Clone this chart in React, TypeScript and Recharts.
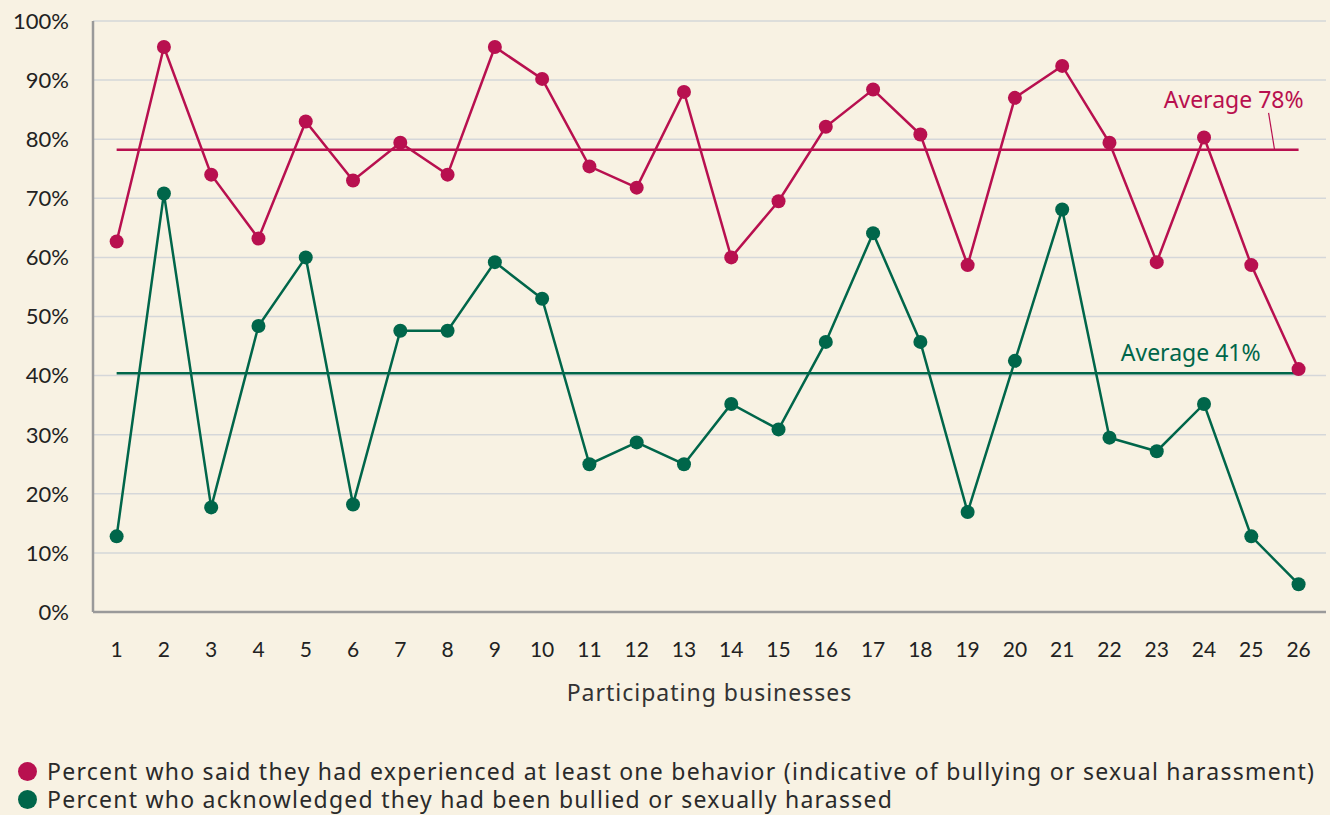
import React from 'react';
import { LineChart, Line, XAxis, YAxis, CartesianGrid, ReferenceLine } from 'recharts';

const businesses = [1,2,3,4,5,6,7,8,9,10,11,12,13,14,15,16,17,18,19,20,21,22,23,24,25,26];
const experienced = [62.7,95.6,74.0,63.2,83.0,73.0,79.4,74.0,95.6,90.2,75.4,71.8,88.0,60.0,69.5,82.1,88.4,80.8,58.7,87.0,92.4,79.4,59.2,80.3,58.7,41.1];
const acknowledged = [12.8,70.8,17.7,48.4,60.0,18.2,47.6,47.6,59.2,53.0,25.0,28.7,25.0,35.2,30.9,45.7,64.1,45.7,16.9,42.5,68.1,29.5,27.2,35.2,12.8,4.7];
const yTicks = [0,10,20,30,40,50,60,70,80,90,100];
const avgExperienced = 78.2;
const avgAcknowledged = 40.4;
const avgExperiencedLabel = 'Average 78%';
const avgAcknowledgedLabel = 'Average 41%';
const legendLabels = [
  'Percent who said they had experienced at least one behavior (indicative of bullying or sexual harassment)',
  'Percent who acknowledged they had been bullied or sexually harassed',
];

const RED = '#b8104f';
const GREEN = '#00664a';
const BG = '#f8f2e3';

const data = businesses.map((b, i) => ({ x: b, exp: experienced[i], ack: acknowledged[i] }));

const RedLabel = (props: any) => {
  const vb = props.viewBox || {};
  const x2 = vb.x + vb.width;
  const y = vb.y;
  return (
    <g>
      <line x1={x2 - 30} y1={y - 37} x2={x2 - 24} y2={y} stroke={RED} strokeWidth={1.2} />
      <text x={x2 + 5} y={y - 42} textAnchor="end" fill={RED} fontSize={23} fontFamily="'Noto Sans', sans-serif">
        {avgExperiencedLabel}
      </text>
    </g>
  );
};

const GreenLabel = (props: any) => {
  const vb = props.viewBox || {};
  const x2 = vb.x + vb.width;
  const y = vb.y;
  return (
    <text x={x2 - 38} y={y - 12} textAnchor="end" fill={GREEN} fontSize={23} fontFamily="'Noto Sans', sans-serif">
      {avgAcknowledgedLabel}
    </text>
  );
};

export default function App() {
  return (
    <div style={{ position: 'fixed', left: 0, top: 0, width: 1330, height: 815, background: BG, overflow: 'hidden' }}>
      <LineChart width={1330} height={720} data={data} margin={{ top: 21, right: 4, left: 0, bottom: 0 }}>
        <CartesianGrid vertical={false} stroke="#d5d7d9" strokeWidth={1.5} />
        <XAxis
          dataKey="x"
          type="number"
          domain={[0.5, 26.58]}
          ticks={businesses}
          interval={0}
          allowDataOverflow
          height={108}
          tickLine={false}
          axisLine={{ stroke: '#9a9a9a', strokeWidth: 2.5 }}
          tick={{ fill: '#222', fontSize: 21, fontFamily: "'Lato', sans-serif" }}
          tickMargin={24}
          label={{ value: 'Participating businesses', position: 'insideBottom', offset: 19, fill: '#333', fontSize: 23, letterSpacing: 1.0, fontFamily: "'Noto Sans', sans-serif" }}
        />
        <YAxis
          type="number"
          domain={[0, 100]}
          ticks={yTicks}
          interval={0}
          width={93}
          tickLine={false}
          axisLine={{ stroke: '#9a9a9a', strokeWidth: 2.5 }}
          tickFormatter={(v: number) => `${v}%`}
          tick={{ fill: '#222', fontSize: 22, fontFamily: "'Lato', sans-serif" }}
          tickMargin={18}
        />
        <ReferenceLine
          segment={[{ x: 1, y: avgExperienced }, { x: 26, y: avgExperienced }]}
          stroke={RED}
          strokeWidth={2.5}
          label={<RedLabel />}
        />
        <ReferenceLine
          segment={[{ x: 1, y: avgAcknowledged }, { x: 26, y: avgAcknowledged }]}
          stroke={GREEN}
          strokeWidth={2.5}
          label={<GreenLabel />}
        />
        <Line
          dataKey="exp"
          stroke={RED}
          strokeWidth={2.5}
          dot={{ r: 7, fill: RED, stroke: RED, strokeWidth: 0 }}
          activeDot={false}
          isAnimationActive={false}
        />
        <Line
          dataKey="ack"
          stroke={GREEN}
          strokeWidth={2.5}
          dot={{ r: 7, fill: GREEN, stroke: GREEN, strokeWidth: 0 }}
          activeDot={false}
          isAnimationActive={false}
        />
      </LineChart>
      <div style={{ position: 'absolute', left: 18, top: 757, fontFamily: "'Noto Sans', sans-serif", fontSize: 23, letterSpacing: 1.25, color: '#2a2a2a', lineHeight: '28px' }}>
        {legendLabels.map((t, i) => (
          <div key={i} style={{ display: 'flex', alignItems: 'center', whiteSpace: 'nowrap', height: 28 }}>
            <span style={{ display: 'inline-block', width: 19, height: 19, borderRadius: '50%', background: i === 0 ? RED : GREEN, marginRight: 10 }} />
            <span>{t}</span>
          </div>
        ))}
      </div>
    </div>
  );
}
